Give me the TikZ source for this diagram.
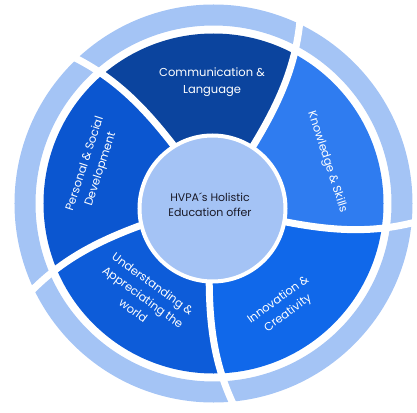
\documentclass[tikz,border=0pt]{standalone}
\usepackage{fontspec}
\setmainfont{Poppins}
\usepackage{tikz}
\usetikzlibrary{positioning}
\definecolor{ringcolor}{RGB}{164,196,245}
\definecolor{hubcolor}{RGB}{164,195,245}
\definecolor{commcolor}{RGB}{11,68,158}
\definecolor{personalcolor}{RGB}{11,86,208}
\definecolor{worldcolor}{RGB}{13,92,217}
\definecolor{innovcolor}{RGB}{16,104,234}
\definecolor{skillscolor}{RGB}{47,124,240}
\definecolor{hubtextcolor}{RGB}{26,26,40}

\begin{document}
\begin{tikzpicture}[
    x=1pt, y=1pt,
    gap/.style={draw=white, line width=7pt},
    hub/.style={circle, fill=hubcolor, draw=white, line width=4pt, minimum size=146pt, inner sep=0pt},
    petal/.style={text=white, align=center, font=\fontsize{11.5}{16.5}\selectfont},
]
    \useasboundingbox (-213.5,-208.5) rectangle (203.5,203.5);

    % Outer ring
    \draw[ringcolor, line width=21pt] (0,0) circle (188.5);

    % Segments
    \begin{scope}
        \clip (0,0) circle (170);
        \foreach \a/\b/\col in {56/125/commcolor, 125/197/personalcolor, 197/267/worldcolor, 267/346/innovcolor, 346/416/skillscolor}
            \fill[\col] (0,0) -- ({\a-1}:60) .. controls ({\a+0.5}:120) and ({\a+3}:165) .. ({\a+10}:215)
                arc[start angle=\a+10, end angle=\b+10, radius=215]
                .. controls ({\b+3}:165) and ({\b+0.5}:120) .. ({\b-1}:60) -- cycle;
    \end{scope}

    % Gaps
    \foreach \a in {56,125,197,267,346}
        \draw[gap] ({\a-1}:60) .. controls ({\a+0.5}:120) and ({\a+3}:165) .. ({\a+10}:215);

    % Hub
    \node[hub] (hub) at (-1,-5) {};
    \node[text=hubtextcolor, align=center, font=\fontsize{11}{15}\selectfont] (offer) at (-3.5,-1.5) {HVPA´s Holistic\\Education offer};

    % Labels
    \node[petal] (comm) at (90.7:121.5) {Communication \&\\Language};
    \node[petal, rotate=-72] (skills) at (20:121) {Knowledge \& Skills};
    \node[petal, rotate=36] (innov) at (-56:124.7) {Innovation \&\\Creativity};
    \node[petal, rotate=-36] (world) at (233:117) {Understanding \&\\Appreciating the\\world};
    \node[petal, rotate=72] (personal) at (163:126) {Personal \& Social\\Development};
\end{tikzpicture}
\end{document}
